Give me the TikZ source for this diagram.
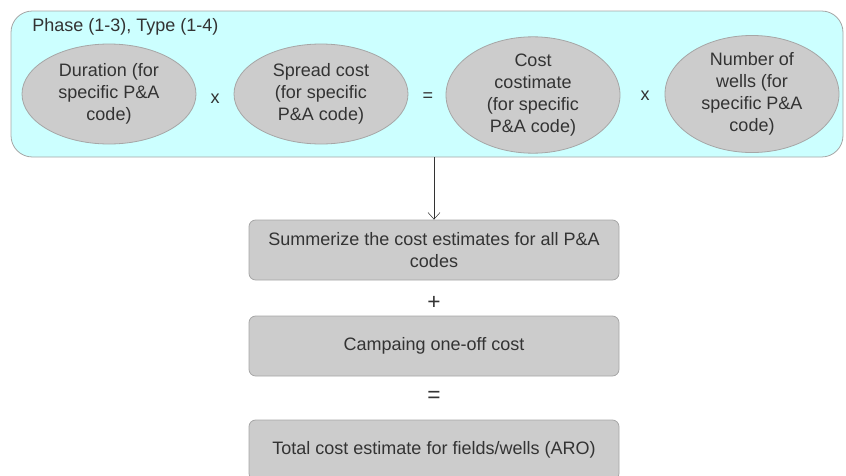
\documentclass[tikz,border=0pt]{standalone}
\usepackage{fontspec}
\setmainfont{Liberation Sans}
\usetikzlibrary{shapes.geometric,positioning,arrows.meta}
\definecolor{panelcyan}{HTML}{CCFFFF}
\definecolor{boxgrey}{HTML}{CCCCCC}
\definecolor{edgegrey}{HTML}{A6A6A6}
\definecolor{txtgrey}{HTML}{333333}
\tikzset{
  code/.style={ellipse, draw=edgegrey, fill=boxgrey, text=txtgrey, align=center,
    minimum width=130.5pt, minimum height=75pt, inner sep=0pt},
  sumbox/.style={rectangle, rounded corners=5pt, draw=edgegrey, fill=boxgrey, text=txtgrey,
    align=center, minimum width=277.5pt, minimum height=45pt, inner sep=2pt},
  op/.style={text=txtgrey, inner sep=0pt}
}
\begin{document}
\begin{tikzpicture}[x=0.75pt,y=-0.75pt,semithick,
  font=\fontsize{13.5}{16.5}\selectfont,
  >={Straight Barb[length=5pt,width=9pt]}]
  \useasboundingbox (0,0) rectangle (846,475);
  % phase/type panel
  \node[rectangle, rounded corners=16pt, draw=edgegrey, fill=panelcyan,
    minimum width=624pt, minimum height=109.5pt] (panel) at (427,84) {};
  \node[op, anchor=west] (title) at (32,27) {Phase (1-3), Type (1-4)};
  \node[code] (dur) at (109,94) {Duration (for\\specific P\&A\\code)};
  \node[code] (spread) at (321,94) {Spread cost\\(for specific\\P\&A code)};
  \node[code] (est) at (533,95) {Cost\\costimate\\(for specific\\P\&A code)};
  \node[code] (wells) at (752,94) {Number of\\wells (for\\specific P\&A\\code)};
  \node[op] (x1) at (215,99) {x};
  \node[op] (eq1) at (428,97) {=};
  \node[op] (x2) at (645,96) {x};
  % summation
  \node[sumbox] (sum) at (434,250) {Summerize the cost estimates for all P\&A\\codes};
  \node[op, font=\fontsize{17}{18}\selectfont] (plus) at (434,303) {+};
  \node[op, font=\fontsize{17}{18}\selectfont] (eq2) at (434,397) {=};
  \node[sumbox] (oneoff) at (434,346) {Campaing one-off cost};
  \node[sumbox] (total) at (434,450) {Total cost estimate for fields/wells (ARO)};
  \draw[->, draw=txtgrey, thin] (panel.south -| sum.north) -- (sum.north);
\end{tikzpicture}
\end{document}
